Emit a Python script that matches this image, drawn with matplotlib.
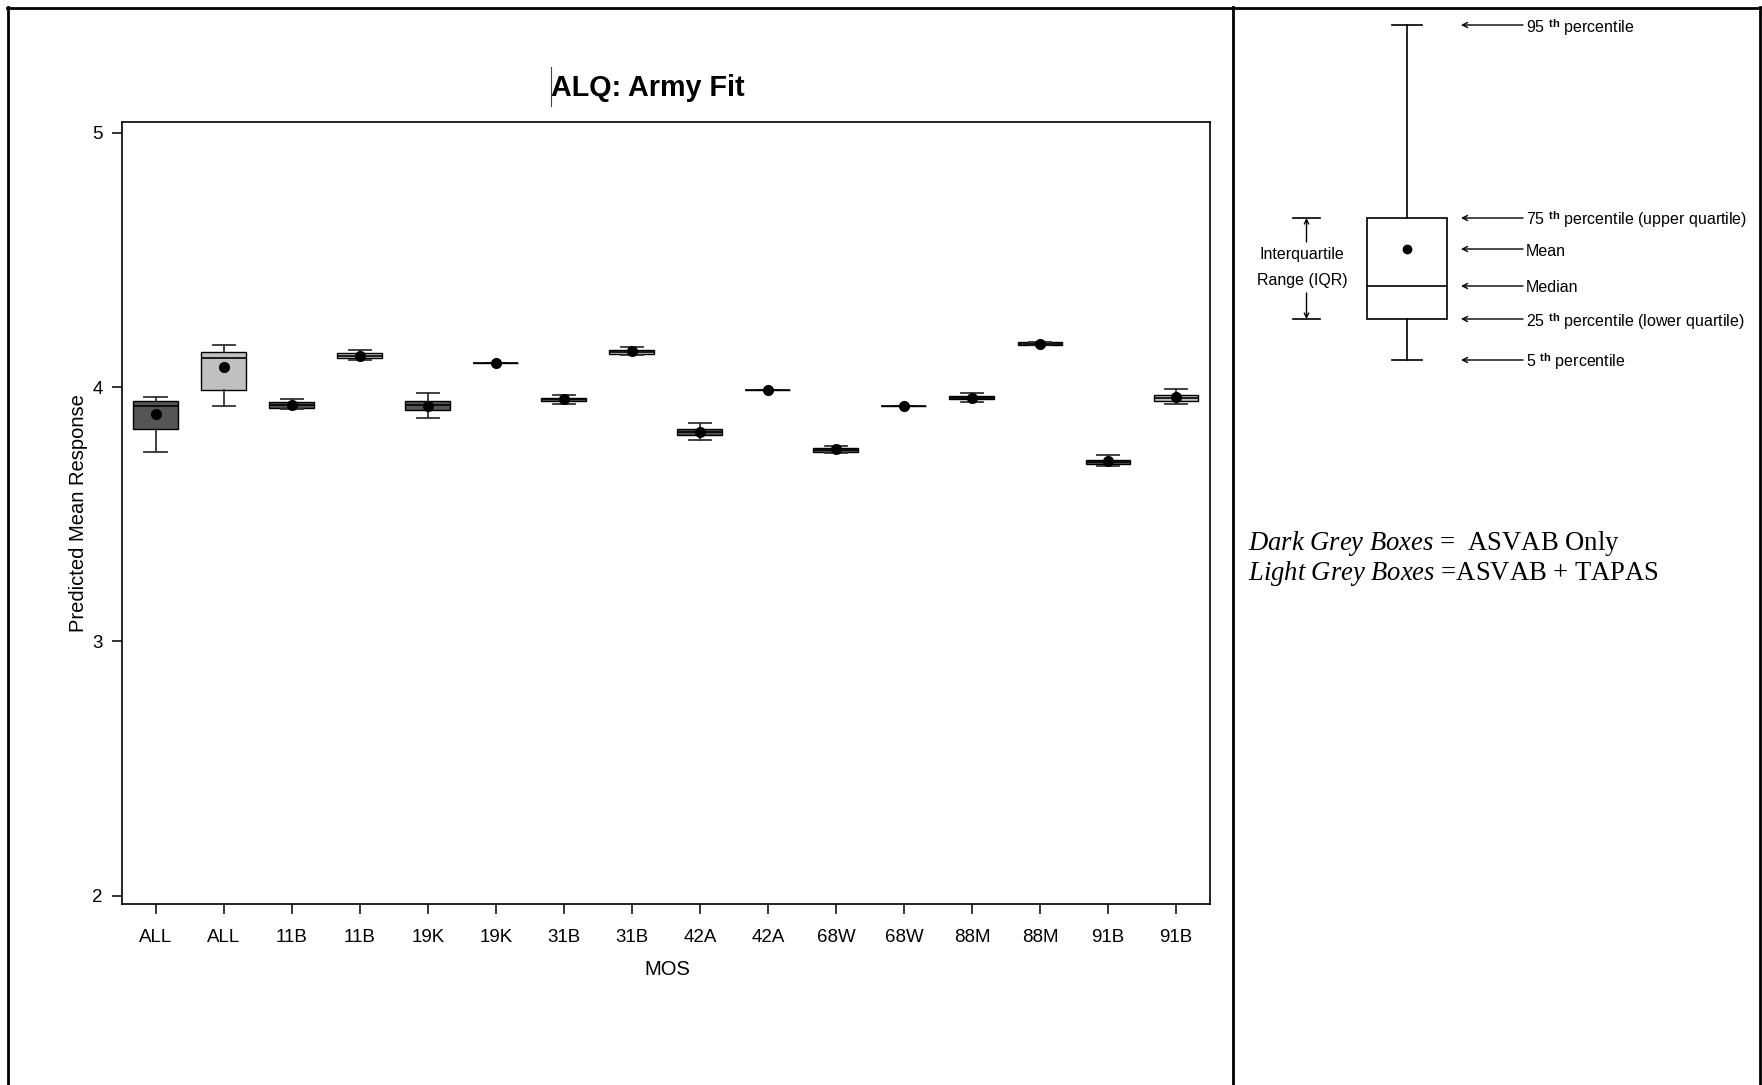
import matplotlib
matplotlib.use('Agg')
import matplotlib.pyplot as plt
from matplotlib.lines import Line2D

W, H, DPI = 1762, 1085, 100

# ---------------- data ----------------
mos = ['ALL', 'ALL', '11B', '11B', '19K', '19K', '31B', '31B',
       '42A', '42A', '68W', '68W', '88M', '88M', '91B', '91B']
group = ['dark', 'light'] * 8
p5 = [3.746, 3.925, 3.915, 4.108, 3.878, 4.096, 3.935, 4.128,
      3.793, 3.987, 3.742, 3.925, 3.940, 4.164, 3.688, 3.935]
p25 = [3.836, 3.987, 3.919, 4.114, 3.911, 4.096, 3.944, 4.131,
       3.810, 3.987, 3.744, 3.925, 3.952, 4.164, 3.696, 3.944]
p50 = [3.927, 4.114, 3.931, 4.124, 3.928, 4.096, 3.952, 4.138,
       3.823, 3.987, 3.754, 3.925, 3.958, 4.171, 3.706, 3.957]
p75 = [3.945, 4.138, 3.941, 4.134, 3.945, 4.096, 3.959, 4.145,
       3.836, 3.987, 3.761, 3.925, 3.965, 4.177, 3.714, 3.970]
p95 = [3.963, 4.167, 3.953, 4.147, 3.978, 4.096, 3.969, 4.159,
       3.860, 3.987, 3.769, 3.925, 3.978, 4.178, 3.732, 3.991]
means = [3.894, 4.081, 3.931, 4.124, 3.925, 4.096, 3.952, 4.141,
         3.823, 3.987, 3.756, 3.925, 3.958, 4.171, 3.709, 3.962]
yticks = [2, 3, 4, 5]

# schematic legend box (illustrative units)
legend_stats = dict(whislo=0, q1=41, med=74, mean=111, q3=142, whishi=335)
legend_labels = [('whishi', r'95 $^{\mathbf{th}}$ percentile'),
                 ('q3', r'75 $^{\mathbf{th}}$ percentile (upper quartile)'),
                 ('mean', 'Mean'),
                 ('med', 'Median'),
                 ('q1', r'25 $^{\mathbf{th}}$ percentile (lower quartile)'),
                 ('whislo', r'5 $^{\mathbf{th}}$ percentile')]

fill = {'dark': '#555555', 'light': '#c0c0c0'}

plt.rcParams['font.family'] = ['Liberation Sans', 'DejaVu Sans']
plt.rcParams['mathtext.fontset'] = 'custom'
plt.rcParams['mathtext.rm'] = 'Liberation Serif'
plt.rcParams['mathtext.it'] = 'Liberation Serif:italic'
plt.rcParams['mathtext.bf'] = 'Liberation Sans:bold'

fig = plt.figure(figsize=(W / DPI, H / DPI), dpi=DPI)
fig.patch.set_facecolor('white')

# ---------------- main chart ----------------
L, R, T, B = 121.7, 1210, 122, 904
ax = fig.add_axes([L / W, 1 - B / H, (R - L) / W, (B - T) / H])
n = len(mos)
stats = [dict(whislo=p5[i], q1=p25[i], med=p50[i], q3=p75[i], whishi=p95[i],
              mean=means[i], fliers=[]) for i in range(n)]
bp = ax.bxp(stats, positions=list(range(1, n + 1)), widths=0.66,
            patch_artist=True, showmeans=True, showfliers=False,
            boxprops=dict(edgecolor='black', linewidth=1.0),
            medianprops=dict(color='black', linewidth=1.2),
            whiskerprops=dict(color='#333333', linewidth=1.3),
            capprops=dict(color='#333333', linewidth=1.3),
            meanprops=dict(marker='o', markerfacecolor='black',
                           markeredgecolor='black', markersize=7))
for patch, g in zip(bp['boxes'], group):
    patch.set_facecolor(fill[g])

ax.set_xlim(0.5, 16.5)
ax.set_ylim(1.967, 5.043)
ax.set_xticks(list(range(1, n + 1)), mos)
ax.set_yticks(yticks, [str(v) for v in yticks])
ax.tick_params(axis='both', direction='out', length=7.2, width=1.1,
               labelsize=13.5, colors='black')
ax.tick_params(axis='x', pad=10.5)
ax.tick_params(axis='y', pad=6.5)
for s in ax.spines.values():
    s.set_linewidth(1.2)
ax.set_xlabel('MOS', fontsize=14.5, va='center')
ax.xaxis.set_label_coords(0.501, -(969.5 - B) / (B - T))
ax.set_ylabel('Predicted Mean Response', fontsize=14.5, va='center')
ax.yaxis.set_label_coords((78 - L) / (R - L), 0.5)

fig.text(648 / W, 1 - 87.5 / H, 'ALQ: Army Fit', fontsize=20.7, fontweight='bold',
         ha='center', va='center')
fig.add_artist(Line2D([551 / W, 551 / W], [1 - 67 / H, 1 - 106 / H],
                      color='#444444', lw=0.8))

# ---------------- legend panel ----------------
axL = fig.add_axes([1234 / W, 0, (W - 1234) / W, 1])
axL.set_xlim(0, W - 1234)
axL.set_ylim(-(H - 360), 360)
axL.axis('off')
ls = dict(legend_stats)
ls['fliers'] = []
bl = axL.bxp([ls], positions=[173], widths=80, capwidths=[30],
             patch_artist=True, showmeans=True, showfliers=False,
             manage_ticks=False,
             boxprops=dict(edgecolor='black', facecolor='white', linewidth=1.2),
             medianprops=dict(color='black', linewidth=1.2),
             whiskerprops=dict(color='black', linewidth=1.2),
             capprops=dict(color='black', linewidth=1.2),
             meanprops=dict(marker='o', markerfacecolor='black',
                            markeredgecolor='black', markersize=6))
for key, txt in legend_labels:
    v = legend_stats[key]
    axL.annotate('', xy=(227, v), xytext=(289, v),
                 arrowprops=dict(arrowstyle='->', lw=1.0, color='black',
                                 shrinkA=0, shrinkB=0, mutation_scale=9))
    axL.text(292, v - 2, txt, fontsize=11.5, va='center', ha='left')

q1, q3 = legend_stats['q1'], legend_stats['q3']
axL.plot([59, 86], [q3, q3], color='black', lw=1.2)
axL.plot([59, 86], [q1, q1], color='black', lw=1.2)
axL.annotate('', xy=(72.5, q3), xytext=(72.5, 118),
             arrowprops=dict(arrowstyle='->', lw=1.0, color='black',
                             shrinkA=0, shrinkB=0, mutation_scale=8))
axL.annotate('', xy=(72.5, q1), xytext=(72.5, 67),
             arrowprops=dict(arrowstyle='->', lw=1.0, color='black',
                             shrinkA=0, shrinkB=0, mutation_scale=8))
axL.text(68, 106, 'Interquartile', fontsize=11.5, ha='center', va='center')
axL.text(68, 80, 'Range (IQR)', fontsize=11.5, ha='center', va='center')

fig.text(1248 / W, 1 - 543 / H, r'$\mathit{Dark\ Grey\ Boxes}$ =  ASVAB Only',
         fontsize=19.2, family='Liberation Serif', ha='left', va='center')
fig.text(1248 / W, 1 - 574 / H, r'$\mathit{Light\ Grey\ Boxes}$ =ASVAB + TAPAS',
         fontsize=19.2, family='Liberation Serif', ha='left', va='center')

# ---------------- page borders ----------------
bw = 2.0
fig.add_artist(Line2D([7 / W, 1], [1 - 7.5 / H, 1 - 7.5 / H], color='black', lw=bw))
fig.add_artist(Line2D([8 / W, 8 / W], [0, 1 - 7 / H], color='black', lw=bw))
fig.add_artist(Line2D([1233 / W, 1233 / W], [0, 1 - 7 / H], color='black', lw=bw))
fig.add_artist(Line2D([1760 / W, 1760 / W], [0, 1 - 7 / H], color='black', lw=bw))

fig.savefig('out.png', dpi=DPI, facecolor='white')
